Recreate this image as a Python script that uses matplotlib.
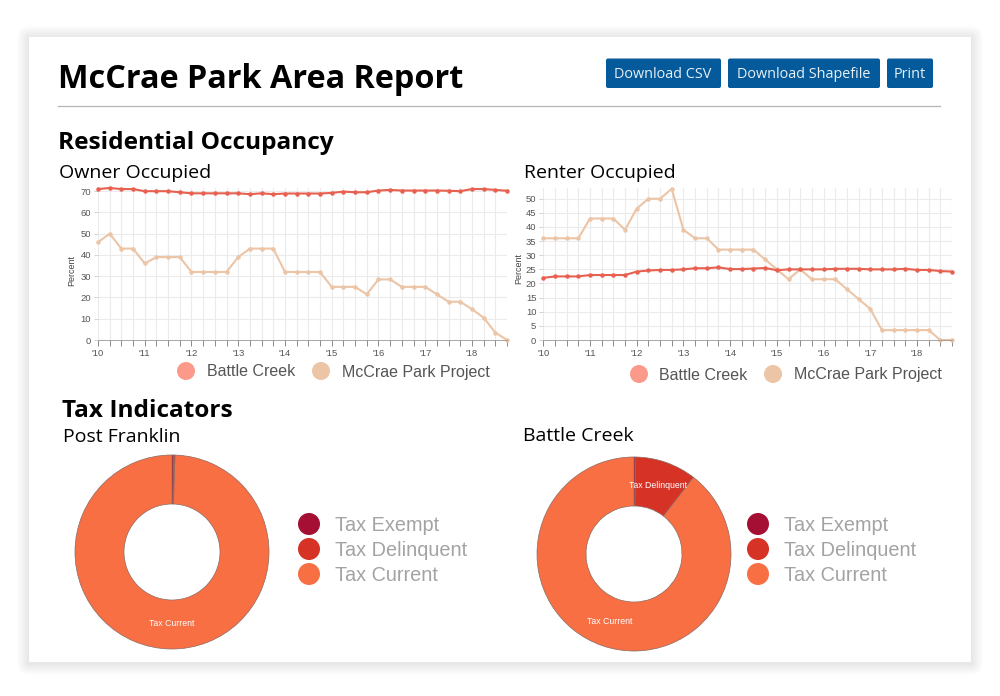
import numpy as np
import matplotlib
matplotlib.use("Agg")
import matplotlib.pyplot as plt
from matplotlib.patches import Circle, FancyBboxPatch, Rectangle

W, H = 1000, 696

year_labels = ["'10", "'11", "'12", "'13", "'14", "'15", "'16", "'17", "'18"]
quarters = list(range(36))

owner_battle = [71, 71.5, 71, 71, 70, 70, 70, 69.5, 69, 69, 69, 69,
                69, 68.6, 69, 68.6, 68.9, 68.9, 68.9, 68.9, 69.2, 69.8, 69.5, 69.5,
                70.3, 70.6, 70.3, 70.3, 70.3, 70.3, 70.2, 70, 71, 71, 70.6, 70.2]
owner_mccrae = [46, 50, 43, 43, 36, 39, 39, 39, 32, 32, 32, 32,
                39, 43, 43, 43, 32, 32, 32, 32, 25, 25, 25, 21.5,
                28.5, 28.5, 25, 25, 25, 21.5, 18, 18, 14.5, 10.5, 3.5, 0]
renter_battle = [22, 22.5, 22.5, 22.5, 23, 23, 23, 23, 24.2, 24.6, 24.8, 24.8,
                 25, 25.4, 25.4, 25.7, 25.1, 25.1, 25.3, 25.5, 24.7, 25, 25, 25,
                 25, 25.2, 25.2, 25.2, 25, 25, 25, 25.2, 24.8, 24.8, 24.4, 24.2]
renter_mccrae = [36, 36, 36, 36, 43, 43, 43, 39, 46.5, 50, 50, 53.5,
                 39, 36, 36, 32, 32, 32, 32, 28.5, 25, 21.5, 25, 21.5,
                 21.5, 21.5, 18, 14.5, 11, 3.5, 3.5, 3.5, 3.5, 3.5, 0, 0]

tax_labels = ["Tax Exempt", "Tax Delinquent", "Tax Current"]
tax_colors = ["#a50f33", "#d63226", "#f96f44"]
post_franklin_tax = [0.3, 0.2, 99.5]
battle_creek_tax = [0.3, 10.2, 89.5]

RED = "#e8604f"
BEIGE = "#ecc4a6"
LEG_RED = "#fb9a8b"
HEAD = "Open Sans"
SANS = "Liberation Sans"

fig = plt.figure(figsize=(W / 100, H / 100), dpi=100, facecolor="white")


def px_axes(left, top, right, bottom, **kw):
    return fig.add_axes([left / W, 1 - bottom / H, (right - left) / W, (bottom - top) / H], **kw)


bg = px_axes(0, 0, W, H, zorder=0)
bg.set_xlim(0, W)
bg.set_ylim(H, 0)
bg.axis("off")

# soft card shadow, stacked thin layers
for grow in range(1, 13):
    bg.add_patch(FancyBboxPatch((29 - grow, 37 - grow + 1), 942 + 2 * grow, 625 + 2 * grow,
                                boxstyle="round,pad=0,rounding_size=%d" % grow,
                                fc="black", ec="none", alpha=0.006))
bg.add_patch(Rectangle((29, 37), 942, 625, fc="white", ec="none"))

bg.text(58, 79, "McCrae Park Area Report", family=HEAD, weight="bold", fontsize=23.3,
        color="black", va="center")
bg.plot([58, 940], [106, 106], color="#b4b4b4", lw=0.9)

for x0, x1, label in [(606, 721, "Download CSV"), (728, 880, "Download Shapefile"), (887, 933, "Print")]:
    bg.add_patch(FancyBboxPatch((x0, 58.5), x1 - x0, 29.5, boxstyle="round,pad=0,rounding_size=2",
                                fc="#045a9a", ec="none"))
    bg.text((x0 + x1) / 2 - 0.5, 75, label, family=HEAD, fontsize=10.4, color="#e8f0f6",
            ha="center", va="center")

bg.text(58, 143, "Residential Occupancy", family=HEAD, weight="bold", fontsize=17.6, va="center")
bg.text(59, 173, "Owner Occupied", family=HEAD, fontsize=14, va="center")
bg.text(524, 173, "Renter Occupied", family=HEAD, fontsize=14, va="center")
bg.text(62, 411, "Tax Indicators", family=HEAD, weight="bold", fontsize=17.6, va="center")
bg.text(63, 437, "Post Franklin", family=HEAD, fontsize=14, va="center")
bg.text(523, 436, "Battle Creek", family=HEAD, fontsize=14, va="center")


def line_chart(left, right, top, ymax, yticks, battle, mccrae):
    ax = px_axes(left, top, right, 340, zorder=1)
    ax.patch.set_alpha(0)
    ax.set_xlim(0, 35)
    ax.set_ylim(0, ymax)
    ax.set_xticks(quarters)
    ax.set_xticklabels([year_labels[q // 4] if q % 4 == 0 else "" for q in quarters],
                       family=SANS, fontsize=6.8, color="#555555")
    ax.set_yticks(yticks)
    ax.set_yticklabels([str(v) for v in yticks], family=SANS, fontsize=6.8, color="#555555")
    ax.grid(True, color="#ebebeb", lw=0.8)
    ax.set_axisbelow(True)
    for name in ["top", "right", "left"]:
        ax.spines[name].set_visible(False)
    ax.spines["bottom"].set_color("#999999")
    ax.spines["bottom"].set_linewidth(0.6)
    ax.tick_params(axis="x", length=4, width=0.6, color="#777777", pad=2.5)
    ax.tick_params(axis="y", length=3, width=0.6, color="#cccccc", pad=2)
    ax.plot(quarters, mccrae, color=BEIGE, lw=1.5, marker="o", ms=2.2, clip_on=False)
    ax.plot(quarters, battle, color=RED, lw=1.5, marker="o", ms=2.2, clip_on=False)
    return ax


line_chart(98, 507, 188, 71.5, list(range(0, 71, 10)), owner_battle, owner_mccrae)
line_chart(543.3, 952, 188, 53.8, list(range(0, 51, 5)), renter_battle, renter_mccrae)

bg.text(72, 270, "Percent", family=SANS, fontsize=6.5, color="#444444", rotation=90,
        ha="center", va="center")
bg.text(519, 269, "Percent", family=SANS, fontsize=6.5, color="#444444", rotation=90,
        ha="center", va="center")

for cx1, tx1, cx2, tx2, y in [(186, 207, 321, 342, 371), (639, 659, 773, 794, 374)]:
    bg.add_patch(Circle((cx1, y), 9, fc=LEG_RED, ec="none"))
    bg.text(tx1, y + 1, "Battle Creek", family=SANS, fontsize=11.5, color="#555555", va="center")
    bg.add_patch(Circle((cx2, y), 9, fc=BEIGE, ec="none"))
    bg.text(tx2, y + 1, "McCrae Park Project", family=SANS, fontsize=11.5, color="#555555", va="center")


def donut(cx, cy, values):
    r = 97
    ax = px_axes(cx - r - 3, cy - r - 3, cx + r + 3, cy + r + 3, zorder=1)
    ax.pie(values, colors=tax_colors, startangle=90, counterclock=False, radius=1,
           wedgeprops=dict(width=0.505, edgecolor="#8a6a60", linewidth=0.5))
    ax.set_xlim(-(r + 3) / r, (r + 3) / r)
    ax.set_ylim(-(r + 3) / r, (r + 3) / r)


donut(172, 552, post_franklin_tax)
donut(634, 554, battle_creek_tax)

labels_layer = px_axes(0, 0, W, H, zorder=2)
labels_layer.patch.set_alpha(0)
labels_layer.set_xlim(0, W)
labels_layer.set_ylim(H, 0)
labels_layer.axis("off")
labels_layer.text(172, 624, "Tax Current", family=SANS, fontsize=6.3, color="white", ha="center", va="center")
labels_layer.text(610, 622, "Tax Current", family=SANS, fontsize=6.3, color="white", ha="center", va="center")
labels_layer.text(658, 485, "Tax Delinquent", family=SANS, fontsize=6.3, color="white", ha="center", va="center")

for cx, tx in [(309, 335), (758, 784)]:
    for y, label, color in zip([524, 549, 574], tax_labels, tax_colors):
        bg.add_patch(Circle((cx, y), 11, fc=color, ec="none"))
        bg.text(tx, y + 1.5, label, family=SANS, fontsize=14.3, color="#a3a3a3", va="center")

fig.savefig("out.png", dpi=100)
